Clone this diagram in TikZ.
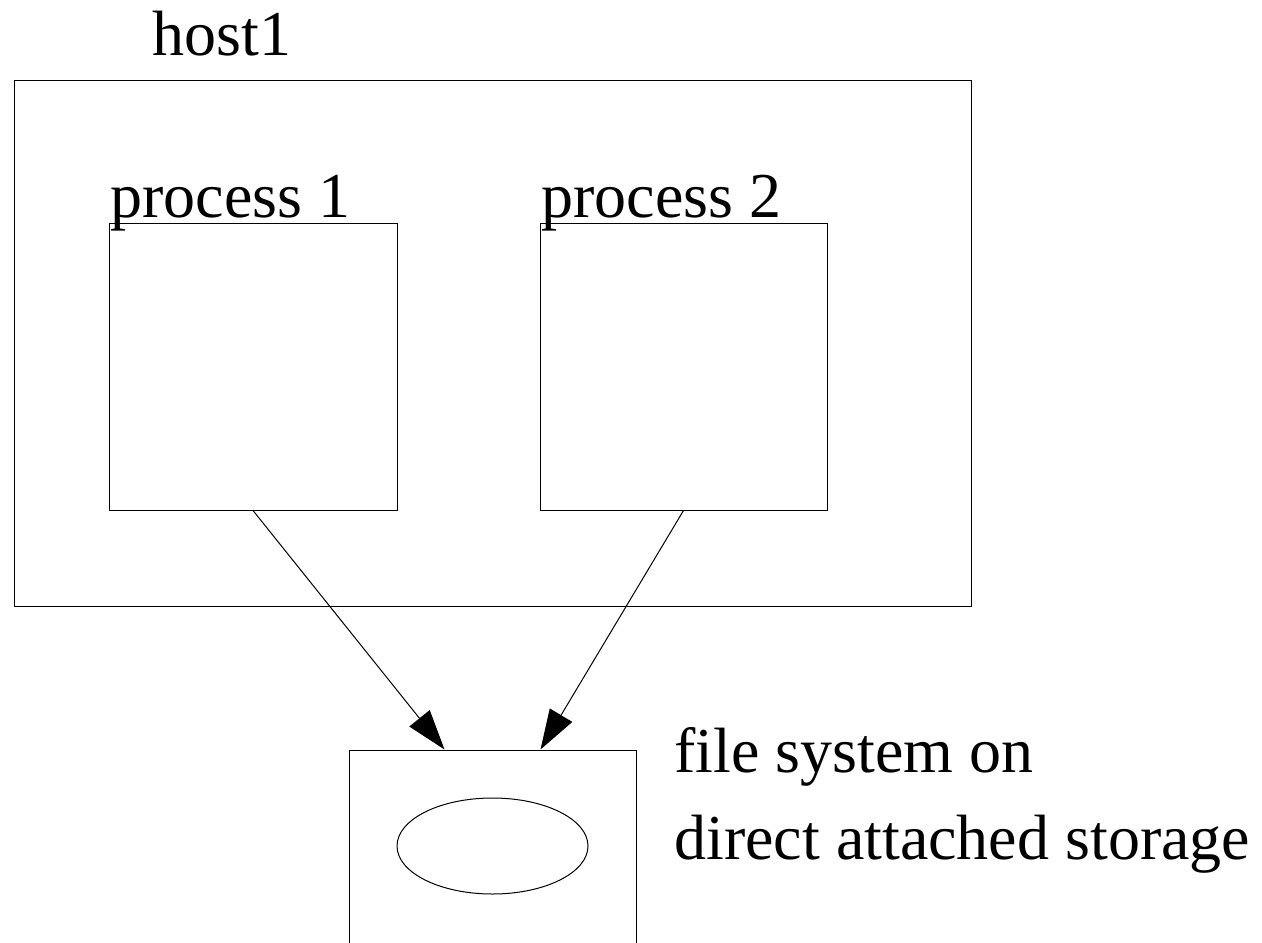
\documentclass[tikz,border=0pt]{standalone}
\usepackage{fontspec}
\setmainfont{Liberation Serif}
\usetikzlibrary{arrows.meta, positioning, shapes.geometric}

\begin{document}
\begin{tikzpicture}[
  x=0.5pt, y=-0.5pt,
  box/.style={draw=black, line width=0.5pt, inner sep=0pt},
  disk/.style={ellipse, draw=black, line width=0.5pt, inner sep=0pt},
  lbl/.style={inner sep=0pt, anchor=base west, font=\fontsize{32}{43.5}\selectfont, align=left},
  arrow/.style={-{Triangle[length=20pt, width=13pt]}, line width=0.5pt, draw=black}
]
  \useasboundingbox (0,0) rectangle (1262,942);

  % boxes
  \node[box, minimum width=478.5pt, minimum height=263pt] (host) at (492.5,343) {};
  \node[box, minimum width=144pt, minimum height=143.5pt] (proc1) at (253,366.5) {};
  \node[box, minimum width=143.5pt, minimum height=143.5pt] (proc2) at (683.5,366.5) {};
  \node[box, minimum width=143.5pt, minimum height=125pt] (fs) at (492.5,875) {};
  \node[disk, minimum width=95.5pt, minimum height=48pt] (vol) at (492.5,846) {};

  % labels
  \node[lbl] (hostlbl) at (152,55) {host1};
  \node[lbl] (proc1lbl) at (110,217) {process 1};
  \node[lbl] (proc2lbl) at (541,217) {process 2};
  \node[lbl] (fslbl) at (674,859) {file system on\\direct attached storage};

  % arrows
  \draw[arrow] (proc1.south) -- ([xshift=-24pt]fs.north);
  \draw[arrow] (proc2.south) -- ([xshift=24pt]fs.north);

\end{tikzpicture}
\end{document}
